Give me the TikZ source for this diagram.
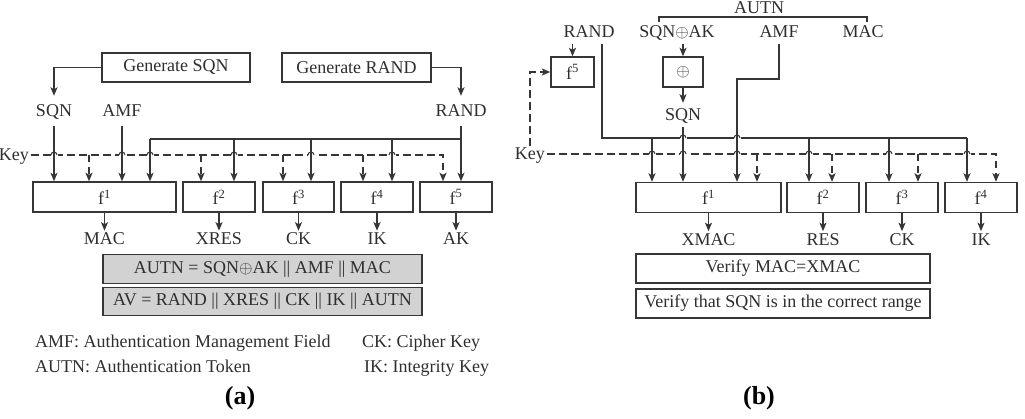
\documentclass[tikz,border=0pt]{standalone}
\usepackage{fontspec}
\setmainfont{Liberation Serif}
\usepackage{tikz}
\usetikzlibrary{arrows.meta,calc}
\definecolor{lnc}{HTML}{363636}
\definecolor{txc}{HTML}{2E2E2E}
\definecolor{grbg}{HTML}{D2D2D2}
\tikzset{
  ln/.style={line width=1.3pt,lnc},
  ar/.style={ln,-{Stealth[length=8.5pt,width=7pt,inset=2pt]}},
  ky/.style={line width=2.3pt,lnc,dash pattern=on 7.5pt off 4.5pt},
  kar/.style={ky,-{Stealth[length=8.5pt,width=7pt,inset=2pt]}},
  fb/.style={draw=lnc,line width=1.4pt,minimum height=30pt,inner sep=0pt,text=txc},
  gb/.style={fb,fill=grbg,minimum height=28.5pt},
  lb/.style={text=txc,inner xsep=2pt,inner ysep=2pt,text height=12pt,text depth=0pt},
  il/.style={lb,inner ysep=9pt}
}
\newcommand{\fn}[1]{f\textsuperscript{#1}}
\newcommand{\hop}[2]{\fill[white] (#1-3.5,#2-2.5) rectangle (#1+3.5,#2+2.5);
  \draw[ln,line width=1pt] (#1-3,#2) arc[start angle=180,end angle=0,radius=3pt];}
\begin{document}
\begin{tikzpicture}[x=1pt,y=-1pt,font=\fontsize{18}{21}\selectfont]
\useasboundingbox (0,0) rectangle (1025,419);
% ---------- (a) ----------
\node[fb,minimum width=148pt,minimum height=29pt] (gsqn) at (176,67.5) {Generate SQN};
\node[fb,minimum width=149pt,minimum height=29pt] (grand) at (356.5,67.5) {Generate RAND};
\node[il] (sqna) at (54,111) {SQN};
\node[il] (amfa) at (122,111) {AMF};
\node[il] (randa) at (461,111) {RAND};
\node[lb,anchor=east] (keya) at (31,155) {Key};
\node[fb,minimum width=143pt] (f1a) at (104.5,197) {\fn1};
\node[fb,minimum width=72pt] (f2a) at (219,197) {\fn2};
\node[fb,minimum width=71pt] (f3a) at (298.5,197) {\fn3};
\node[fb,minimum width=72pt] (f4a) at (377,197) {\fn4};
\node[fb,minimum width=72pt] (f5a) at (456,197) {\fn5};
\foreach \b/\t in {f1a/MAC,f2a/XRES,f3a/CK,f4a/IK,f5a/AK}{
  \node[lb,anchor=north] (o\b) at ([yshift=-18pt]\b.south) {\t};
  \draw[ar] (\b.south) -- (o\b.north);}
\node[gb,minimum width=319pt] (autna) at (262.5,269) {AUTN = SQN$\oplus$AK || AMF || MAC};
\node[gb,minimum width=319pt] (ava) at (262.5,301.5) {AV = RAND || XRES || CK || IK || AUTN};
\node[lb,anchor=west] (lg1) at (33,342) {AMF: Authentication Management Field};
\node[lb,anchor=west] (lg2) at (33,366) {AUTN: Authentication Token};
\node[lb,anchor=west] (lg3) at (360,342) {CK: Cipher Key};
\node[lb,anchor=west] (lg4) at (362,366) {IK: Integrity Key};
\node[font=\fontsize{26}{30}\selectfont\bfseries] (capa) at (240,398) {(a)};
\draw[ar] (gsqn.west) -| (sqna.north);
\draw[ar] (grand.east) -| (randa.north);
\coordinate (ba) at (150,139);
\draw[ln] (ba) -- (randa.south |- ba);
\coordinate (ka5) at (443,155);
\draw[kar] (keya.east) -- (ka5) -- (ka5 |- f5a.north);
\foreach \x/\b in {89/f1a,201/f2a,283/f3a,363/f4a}{
  \coordinate (k\b) at (\x,155); \draw[kar] (k\b) -- (k\b |- \b.north);}
\foreach \x in {54,122,150,234,311,392}{\hop{\x}{155}}
\draw[ar] (sqna.south) -- (sqna.south |- f1a.north);
\draw[ar] (amfa.south) -- (amfa.south |- f1a.north);
\draw[ar] (randa.south) -- (randa.south |- f5a.north);
\foreach \x/\b in {150/f1a,234/f2a,311/f3a,392/f4a}{
  \coordinate (r\b) at (\x,139); \draw[ar] (r\b) -- (r\b |- \b.north);}
% ---------- (b) ----------
\node[lb] (autnb) at (759,8) {AUTN};
\coordinate (brl) at (659,17); \coordinate (brr) at (867,17);
\draw[ln] ([yshift=-5pt]brl) -- (brl) -- (brr) -- ([yshift=-5pt]brr);
\node[il,inner ysep=6pt] (randb) at (589,32) {RAND};
\node[il,inner ysep=6pt] (sqnakb) at (677,32) {SQN$\oplus$AK};
\node[il,inner ysep=6pt] (amfb) at (779,32) {AMF};
\node[il,inner ysep=6pt] (macb) at (863,32) {MAC};
\node[fb,minimum width=43pt] (f5b) at (572.5,72) {\fn5};
\node[fb,minimum width=40pt] (xorb) at (683,72) {$\oplus$};
\node[il,inner ysep=6pt] (sqnb) at (683,115) {SQN};
\node[lb,anchor=east] (keyb) at (547,154) {Key};
\node[fb,minimum width=145pt] (f1b) at (708.5,197.5) {\fn1};
\node[fb,minimum width=72pt] (f2b) at (823,197.5) {\fn2};
\node[fb,minimum width=72pt] (f3b) at (902,197.5) {\fn3};
\node[fb,minimum width=72pt] (f4b) at (981,197.5) {\fn4};
\foreach \b/\t in {f1b/XMAC,f2b/RES,f3b/CK,f4b/IK}{
  \node[lb,anchor=north] (o\b) at ([yshift=-18pt]\b.south) {\t};
  \draw[ar] (\b.south) -- (o\b.north);}
\node[fb,minimum width=294pt,minimum height=29pt] (vmac) at (783,268.5) {Verify MAC=XMAC};
\node[fb,minimum width=294pt,minimum height=29pt] (vsqn) at (783,303.5) {Verify that SQN is in the correct range};
\node[font=\fontsize{26}{30}\selectfont\bfseries] (capb) at (759,398) {(b)};
\draw[ar] (randb.south -| f5b) -- (f5b.north);
\draw[ar] (sqnakb.south -| xorb) -- (xorb.north);
\draw[ar] (xorb.south) -- (sqnb.north);
\draw[kar] (keyb.north) |- (f5b.west);
\coordinate (bb) at (967,138);
\draw[ln] ([xshift=13pt]randb.south) |- (bb);
\coordinate (kb4) at (996,154);
\draw[kar] (keyb.east) -- (kb4) -- (kb4 |- f4b.north);
\foreach \x/\b in {757/f1b,832/f2b,918/f3b}{
  \coordinate (k\b) at (\x,154); \draw[kar] (k\b) -- (k\b |- \b.north);}
\foreach \x in {652,683,737,809,889,967}{\hop{\x}{154}}
\hop{683}{138}\hop{737}{138}
\coordinate (amfc) at (737,79);
\draw[ar] (amfb.south) |- (amfc) -- (amfc |- f1b.north);
\draw[ar] (sqnb.south) -- (sqnb.south |- f1b.north);
\foreach \x/\b in {652/f1b,809/f2b,889/f3b,967/f4b}{
  \coordinate (r\b) at (\x,138); \draw[ar] (r\b) -- (r\b |- \b.north);}
\end{tikzpicture}
\end{document}
